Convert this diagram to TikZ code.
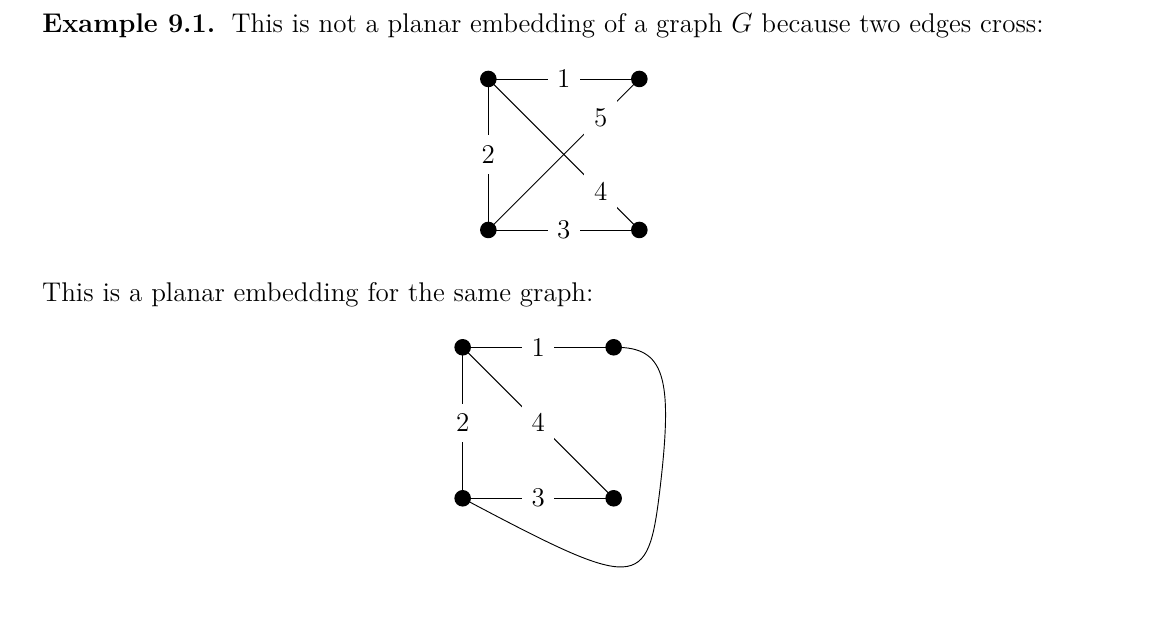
\documentclass[tikz,border=0pt]{standalone}
\begin{document}
\begin{tikzpicture}[x=32.8pt, y=32.8pt, font=\fontsize{11.75}{14}\selectfont, lbl/.style={fill=white, inner xsep=4.2pt, inner ysep=4.45pt}]
		\useasboundingbox (0,0) rectangle (15.55,8.318);

		\node[inner sep=0pt, anchor=base west] (head) at (0.556, 7.881) {\textbf{Example 9.1.}\hspace{7pt}This is not a planar embedding of a graph \(G\) because two edges cross:};
		\node[inner sep=0pt, anchor=base west] (same) at (0.552, 4.322) {This is a planar embedding for the same graph:};

		% crossing drawing
		\node[inner sep=0pt] (u0) at (6.468, 5.272) {};
		\node[inner sep=0pt] (u1) at (8.468, 5.272) {};
		\node[inner sep=0pt] (u2) at (6.468, 7.272) {};
		\node[inner sep=0pt] (u3) at (8.468, 7.272) {};

		\draw[color=black] (u2) -- node[lbl] {1} (u3);
		\draw[color=black] (u2) -- node[lbl] {2} (u0);
		\draw[color=black] (u0) -- node[lbl] {3} (u1);
		\draw[color=black] (u2) -- node[lbl, pos=0.75] {4} (u1);
		\draw[color=black] (u0) -- node[lbl, pos=0.75] {5} (u3);

		\fill[color=black] (u0) circle (3.6pt);
		\fill[color=black] (u1) circle (3.6pt);
		\fill[color=black] (u2) circle (3.6pt);
		\fill[color=black] (u3) circle (3.6pt);

		% planar drawing
		\node[inner sep=0pt] (v0) at (6.128, 1.718) {};
		\node[inner sep=0pt] (v1) at (8.128, 1.718) {};
		\node[inner sep=0pt] (v2) at (6.128, 3.718) {};
		\node[inner sep=0pt] (v3) at (8.128, 3.718) {};

		\draw[color=black] (v2) -- node[lbl] {1} (v3);
		\draw[color=black] (v2) -- node[lbl] {2} (v0);
		\draw[color=black] (v0) -- node[lbl] {3} (v1);
		\draw[color=black] (v2) -- node[lbl] {4} (v1);
		\draw[color=black] (v0) .. controls +(2.32, -1.23) and +(-0.16, -1.34) .. (8.74, 1.83)
			.. controls +(0.18, 1.51) and +(0.67, 0) .. (v3);

		\fill[color=black] (v0) circle (3.6pt);
		\fill[color=black] (v1) circle (3.6pt);
		\fill[color=black] (v2) circle (3.6pt);
		\fill[color=black] (v3) circle (3.6pt);
	\end{tikzpicture}
\end{document}
